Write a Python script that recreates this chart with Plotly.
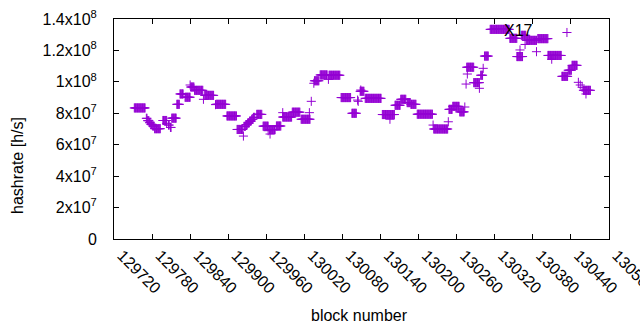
import plotly.graph_objects as go

# Runs of blocks with a constant hashrate (values in units of 1e7 h/s)
run_start = [129752, 129771, 129773, 129776, 129778, 129781, 129784, 129797, 129803, 129806,
             129809, 129811, 129819, 129824, 129832, 129840, 129841, 129847, 129861, 129863,
             129880, 129881, 129898, 129914, 129924, 129925, 129928, 129931, 129934, 129937,
             129940, 129945, 129955, 129963, 129966, 129965, 129976, 129986, 129986, 130001,
             130015, 130028, 130031, 130035, 130036, 130045, 130058, 130059, 130078, 130095,
             130104, 130105, 130108, 130109, 130116, 130143, 130155, 130163, 130172, 130182,
             130188, 130198, 130223, 130224, 130247, 130248, 130254, 130265, 130273, 130275,
             130277, 130276, 130287, 130296, 130298, 130302, 130304, 130313, 130344, 130355,
             130360, 130362, 130368, 130370, 130386, 130388, 130404, 130410, 130434, 130426,
             130436, 130442, 130452, 130455, 130458, 130460, 130464]
run_end = [129769, 129772, 129775, 129777, 129780, 129783, 129793, 129803, 129803, 129807,
           129810, 129818, 129823, 129829, 129840, 129840, 129846, 129860, 129861, 129877,
           129880, 129896, 129913, 129923, 129924, 129927, 129930, 129933, 129936, 129939,
           129942, 129953, 129963, 129963, 129966, 129974, 129983, 129986, 130000, 130013,
           130029, 130028, 130031, 130035, 130043, 130056, 130058, 130076, 130093, 130102,
           130104, 130105, 130114, 130109, 130141, 130162, 130155, 130171, 130180, 130187,
           130196, 130222, 130223, 130246, 130247, 130253, 130264, 130272, 130273, 130275,
           130277, 130287, 130296, 130296, 130301, 130302, 130310, 130343, 130355, 130364,
           130360, 130369, 130368, 130386, 130386, 130404, 130425, 130410, 130434, 130435,
           130441, 130450, 130452, 130455, 130458, 130471, 130464]
run_value = [8.34, 7.68, 7.53, 7.40, 7.30, 7.19, 7.02, 7.54, 7.36, 7.25,
             7.10, 7.69, 8.57, 9.23, 9.02, 9.80, 9.67, 9.46, 8.89, 9.14,
             8.55, 8.57, 7.83, 6.97, 6.55, 7.17, 7.28, 7.38, 7.50, 7.62,
             7.74, 7.93, 7.18, 6.89, 6.68, 6.96, 7.19, 8.04, 7.76, 8.07,
             7.62, 8.04, 8.76, 9.91, 10.07, 10.44, 10.16, 10.42, 9.00, 8.00,
             8.84, 8.76, 9.40, 9.48, 8.95, 7.92, 7.62, 8.51, 8.89, 8.68,
             8.57, 7.94, 7.25, 7.00, 7.46, 8.25, 8.44, 8.09, 8.40, 9.86,
             10.50, 10.93, 9.95, 9.59, 10.42, 10.86, 11.64, 13.34, 12.77, 11.61,
             12.03, 12.96, 12.38, 12.64, 11.92, 12.75, 11.68, 11.44, 13.14, 10.35,
             10.74, 11.05, 9.97, 9.80, 9.65, 9.46, 9.23]

x_ticks = [129720, 129780, 129840, 129900, 129960, 130020, 130080, 130140,
           130200, 130260, 130320, 130380, 130440, 130500]
y_ticks = [0, 2e7, 4e7, 6e7, 8e7, 1e8, 1.2e8, 1.4e8]
y_ticktext = ["0", "2x10<sup>7</sup>", "4x10<sup>7</sup>", "6x10<sup>7</sup>",
              "8x10<sup>7</sup>", "1x10<sup>8</sup>", "1.2x10<sup>8</sup>", "1.4x10<sup>8</sup>"]

label_text = "X17"
label_block = 130332
label_rate = 1.325e8

blocks, rates = [], []
for s, e, v in zip(run_start, run_end, run_value):
    for b in range(s, e + 1):
        blocks.append(b)
        rates.append(v * 1e7)

PURPLE = "#9400d3"
FONT = "Liberation Sans, Arial, sans-serif"

fig = go.Figure(go.Scatter(
    x=blocks, y=rates, mode="markers",
    marker=dict(symbol="cross-thin", size=6.5, color=PURPLE,
                line=dict(width=1, color=PURPLE)),
    hoverinfo="skip"))

fig.update_layout(
    width=640, height=330,
    margin=dict(l=114, r=31, t=19, b=91, autoexpand=False),
    plot_bgcolor="white", paper_bgcolor="white",
    showlegend=False,
    font=dict(family=FONT, size=16, color="black"),
)
fig.update_xaxes(range=[129720, 130500.3], tickvals=x_ticks,
                 ticktext=[str(t) for t in x_ticks], tickangle=45,
                 ticklabeloverflow="allow", ticklabelshift=8,
                 ticks="inside", ticklen=5, tickcolor="black",
                 showline=True, linecolor="black", linewidth=1, mirror="ticks",
                 showgrid=False, zeroline=False, automargin=False)
fig.update_yaxes(range=[0, 1.4e8], tickvals=y_ticks, ticktext=y_ticktext,
                 ticks="inside", ticklen=5, tickcolor="black", ticklabelstandoff=13,
                 showline=True, linecolor="black", linewidth=1, mirror="ticks",
                 showgrid=False, zeroline=False, automargin=False)

fig.add_annotation(x=label_block, y=label_rate, text=label_text, showarrow=False,
                   xanchor="left", yanchor="middle", font=dict(size=16))
fig.add_annotation(xref="paper", yref="paper", x=(17 - 114) / 495, y=(239 - 166) / 220,
                   text="hashrate [h/s]", textangle=-90, showarrow=False,
                   xanchor="center", yanchor="middle", font=dict(size=16))
fig.add_annotation(xref="paper", yref="paper", x=(359 - 114) / 495, y=(239 - 315) / 220,
                   text="block number", showarrow=False,
                   xanchor="center", yanchor="middle", font=dict(size=16))

fig.write_html("out.html", config={"displayModeBar": False},
               post_script="document.body.style.margin='0';document.body.style.overflow='hidden';")
